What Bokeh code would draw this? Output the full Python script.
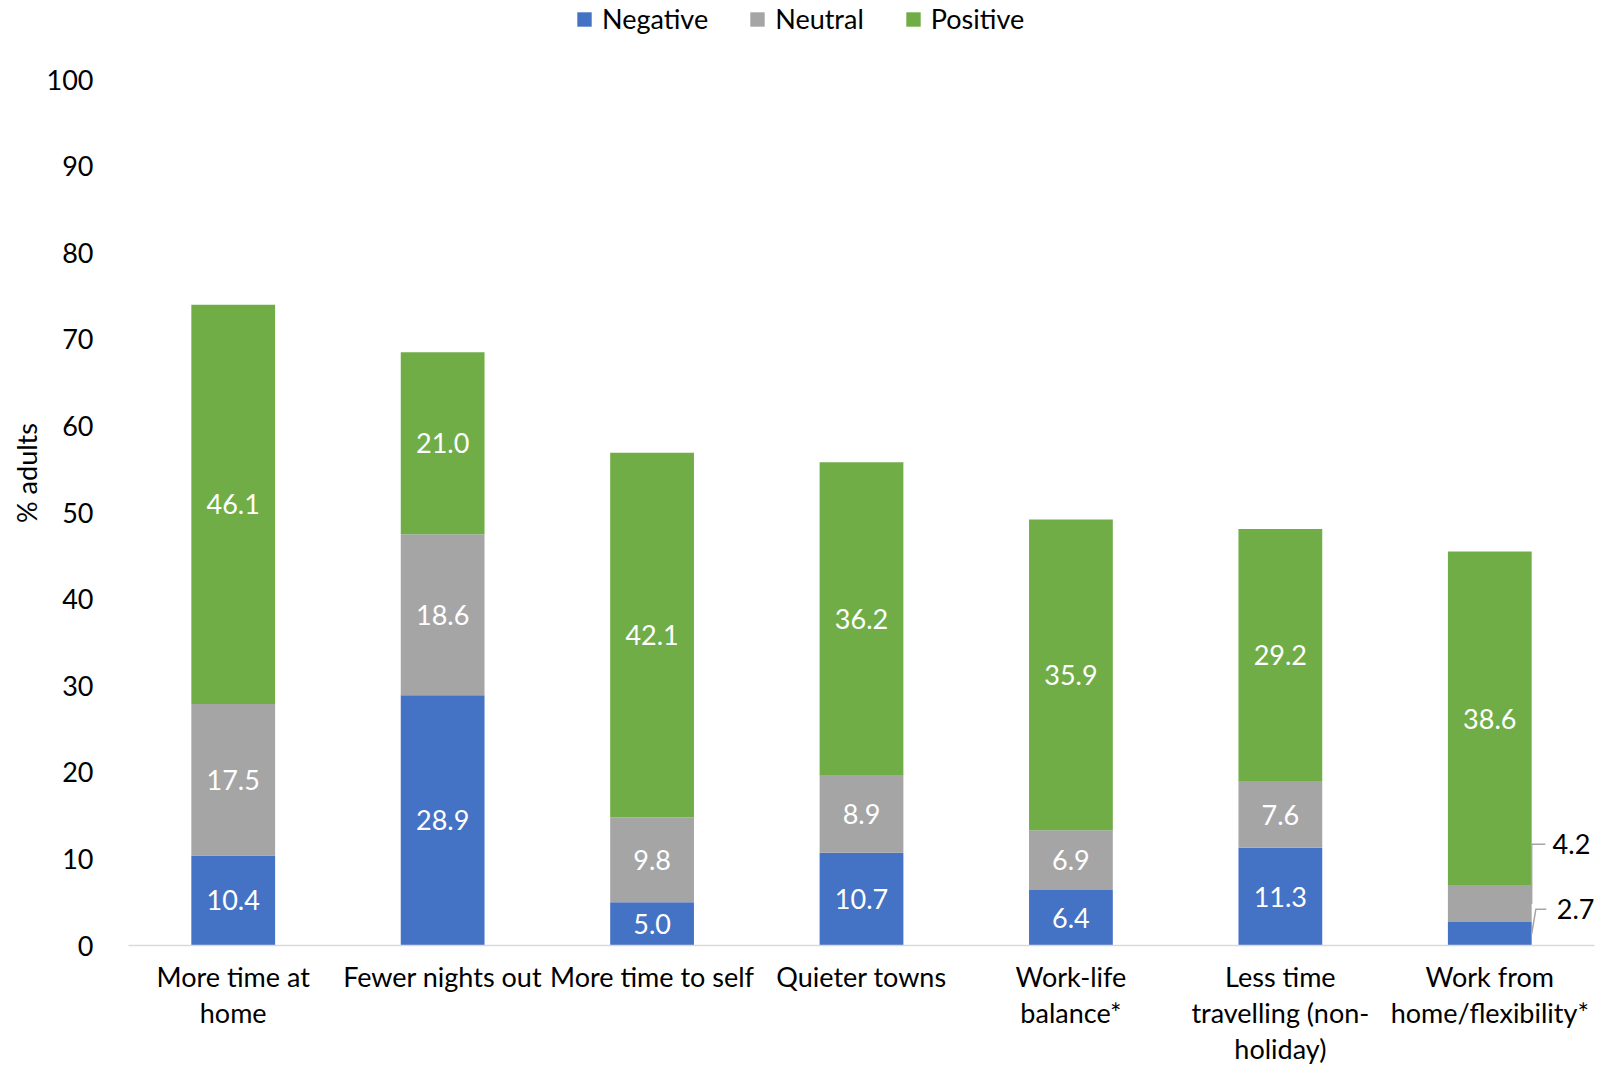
import numpy as np
from bokeh.plotting import figure
from bokeh.models import (Range1d, FixedTicker, Legend, LegendItem, Label,
                          ColumnDataSource, Title)
from bokeh.core.properties import value
from bokeh.embed import file_html
from bokeh.resources import INLINE

# Survey results: share of adults rating each lockdown change
categories = ["More time at\nhome", "Fewer nights out", "More time to self",
              "Quieter towns", "Work-life\nbalance*",
              "Less time\ntravelling (non-\nholiday)",
              "Work from\nhome/flexibility*"]
negative = [10.4, 28.9, 5.0, 10.7, 6.4, 11.3, 2.7]
neutral = [17.5, 18.6, 9.8, 8.9, 6.9, 7.6, 4.2]
positive = [46.1, 21.0, 42.1, 36.2, 35.9, 29.2, 38.6]
series = ["Negative", "Neutral", "Positive"]
colors = ["#4472C4", "#A5A5A5", "#70AD47"]
y_ticks = list(range(0, 101, 10))
y_title = "% adults"

FONT = "Lato"
FS = "27px"

n = len(categories)
xs = np.arange(n) + 0.5

# plot area runs to the top edge so the legend strip lives inside it;
# the value axis itself stops at 100
W, H = 1601, 1068
left_border, right_border = 128, 7
top_pad, bottom_border = 79, 123
frame_h = H - bottom_border
y_top = 100 * frame_h / (frame_h - top_pad)

p = figure(width=W, height=H, output_backend="svg", toolbar_location=None,
           x_range=Range1d(0, n), y_range=Range1d(0, y_top),
           min_border_left=left_border, min_border_right=right_border,
           min_border_top=0, min_border_bottom=bottom_border)
p.outline_line_color = None
p.background_fill_color = "white"
p.border_fill_color = "white"
p.xgrid.visible = False
p.ygrid.visible = False

src = ColumnDataSource(dict(x=xs, Negative=negative, Neutral=neutral,
                            Positive=positive))
bars = p.vbar_stack(series, x="x", width=0.4, color=colors, line_color=None,
                    source=src)

# value labels centred in each segment; very small segments get callouts
lab_x, lab_y, lab_t = [], [], []
callouts = []
for i in range(n):
    base = 0.0
    for name, vals in zip(series, [negative, neutral, positive]):
        v = vals[i]
        if v >= 4.5:
            lab_x.append(xs[i])
            lab_y.append(base + v / 2)
            lab_t.append(f"{v:.1f}")
        else:
            callouts.append((i, name, base, v))
        base += v
p.text(x=lab_x, y=lab_y, text=lab_t, text_color="white",
       text_font=value(FONT), text_font_size=value(FS),
       text_align="center", text_baseline="middle")

# callout leaders for the thin segments of the last bar
for i, name, base, v in callouts:
    right = xs[i] + 0.2
    mid = base + v / 2
    if name == "Neutral":
        ly = mid + 6.9
        lx = [right, right, right + 0.065]
        ly_pts = [mid, ly, ly]
        tx = right + 0.1
    else:
        ly = mid + 2.85
        lx = [right, right + 0.02, right + 0.07]
        ly_pts = [mid, ly, ly]
        tx = right + 0.12
    p.line(lx, ly_pts, line_color="#A5A5A5", line_width=1.5)
    p.add_layout(Label(x=tx, y=ly, text=f"{v:.1f}", text_color="black",
                       text_font=FONT, text_font_size=FS,
                       text_baseline="middle", text_align="left"))

# x axis
xa = p.xaxis[0]
xa.ticker = FixedTicker(ticks=list(xs))
xa.major_label_overrides = {float(x): c for x, c in zip(xs, categories)}
xa.axis_line_color = "#D9D9D9"
xa.axis_line_width = 1.5
xa.major_tick_line_color = None
xa.minor_tick_line_color = None
xa.major_label_text_font = FONT
xa.major_label_text_font_size = FS
xa.major_label_text_color = "black"
xa.major_label_text_line_height = 1.1
xa.major_label_standoff = 8

# y axis
ya = p.yaxis[0]
ya.ticker = FixedTicker(ticks=y_ticks)
ya.axis_line_color = None
ya.major_tick_line_color = None
ya.minor_tick_line_color = None
ya.major_label_text_font = FONT
ya.major_label_text_font_size = FS
ya.major_label_text_color = "black"
ya.major_label_standoff = 29

# vertical title, shifted down so it is centred on the 0-100 span
title_shift = top_pad / 2
p.add_layout(Title(text=y_title, align="center", offset=-title_shift,
                   standoff=2, text_font=FONT, text_font_size=FS,
                   text_font_style="normal", text_color="black"), "left")

legend = Legend(items=[LegendItem(label=s, renderers=[r]) for s, r in zip(series, bars)],
                orientation="horizontal", location=(447, frame_h - 35),
                glyph_width=18, glyph_height=18, label_standoff=9, spacing=40,
                padding=0, margin=0, border_line_color=None,
                background_fill_alpha=0,
                label_text_font=FONT, label_text_font_size=FS,
                label_text_color="black")
p.add_layout(legend, "center")

open("out.html", "w").write(file_html(p, INLINE))
